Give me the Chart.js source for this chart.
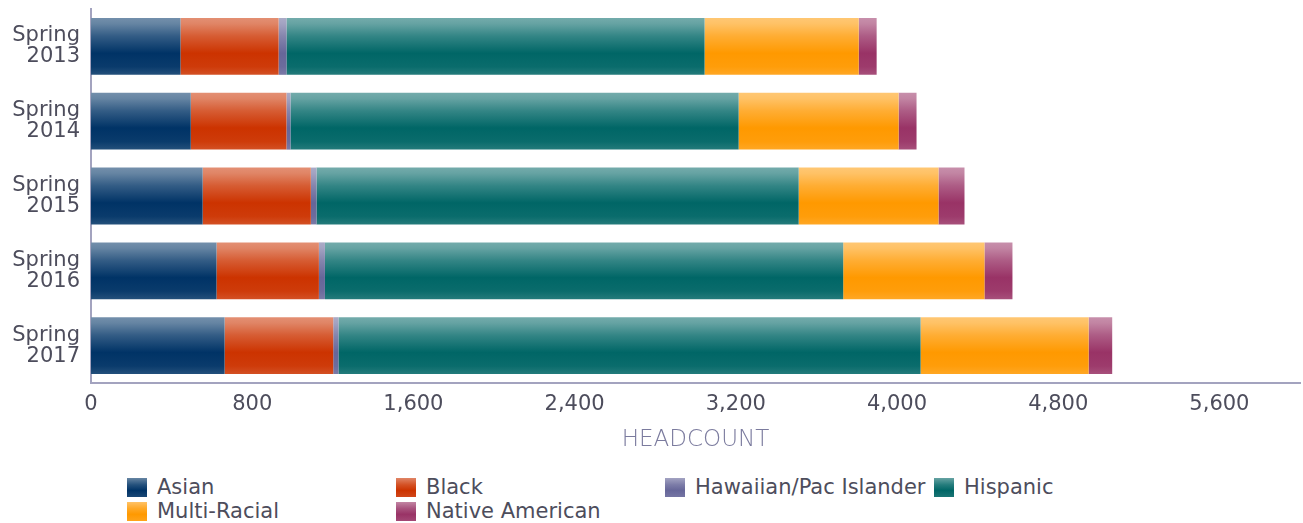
<!DOCTYPE html>
<html lang="en">
<head>
<meta charset="UTF-8">
<title>Headcount by Ethnicity</title>
<script src="https://cdn.jsdelivr.net/npm/chart.js@4.4.0/dist/chart.umd.min.js"></script>
<style>
    body {
        margin: 0;
        background: #ffffff;
        font-family: 'DejaVu Sans', sans-serif;
    }
    .wrap {
        position: relative;
        width: 1303px;
        height: 523px;
    }
    .chart-box {
        position: absolute;
        left: 0;
        top: 0;
        width: 1303px;
        height: 462px;
    }
    .legend {
        position: absolute;
        left: 127px;
        top: 477px;
        display: grid;
        grid-template-columns: repeat(4, 269px);
        row-gap: 4px;
        font-size: 21px;
        color: #4d4d5c;
    }
    .legend span {
        display: flex;
        align-items: center;
        height: 20px;
        white-space: nowrap;
    }
    .legend i {
        display: inline-block;
        width: 20px;
        height: 19px;
        margin-right: 10px;
    }
</style>
</head>
<body>

<div class="wrap">
    <div class="chart-box"><canvas id="headcountChart"></canvas></div>
    <div class="legend" id="legend"></div>
</div>

<script>
    // terms on the y axis
    const terms = [['Spring', '2013'], ['Spring', '2014'], ['Spring', '2015'], ['Spring', '2016'], ['Spring', '2017']];

    // headcount per group
    const asian          = [444, 495, 554, 623, 663];
    const black          = [487, 475, 537, 508, 539];
    const hawaiian       = [39, 20, 28, 30, 26];
    const hispanic       = [2075, 2224, 2393, 2572, 2889];
    const multiRacial    = [765, 794, 694, 701, 834];
    const nativeAmerican = [89, 89, 129, 139, 117];

    // x axis ticks (axis runs on to 6,000 without a label)
    const xTicks = [0, 800, 1600, 2400, 3200, 4000, 4800, 5600];
    const xMax = 6000;

    const groupNames = ['Asian', 'Black', 'Hawaiian/Pac Islander', 'Hispanic', 'Multi-Racial', 'Native American'];
    const groupValues = [asian, black, hawaiian, hispanic, multiRacial, nativeAmerican];
    const groupColors = ['#003366', '#cc3300', '#666699', '#006666', '#ff9900', '#993366'];

    const BAR_PCT = 0.76;

    function tint(hex, amt) {
        const n = parseInt(hex.slice(1), 16);
        const r = (n >> 16) & 255, g = (n >> 8) & 255, b = n & 255;
        const mix = c => Math.round(c + (255 - c) * amt);
        return 'rgb(' + mix(r) + ',' + mix(g) + ',' + mix(b) + ')';
    }

    const shade = [[0, 0.45], [0.1, 0.4], [0.32, 0.2], [0.62, 0], [0.86, 0.04], [1, 0.14]];

    function barFill(color) {
        return function (ctx) {
            const chart = ctx.chart;
            const area = chart.chartArea;
            if (!area || ctx.dataIndex === undefined) return color;
            const y = chart.scales.y.getPixelForValue(ctx.dataIndex);
            const h = area.height / terms.length * BAR_PCT;
            const g = chart.ctx.createLinearGradient(0, y - h / 2, 0, y + h / 2);
            shade.forEach(s => g.addColorStop(s[0], tint(color, s[1])));
            return g;
        };
    }

    const datasets = groupNames.map((name, i) => ({
        label: name,
        data: groupValues[i],
        backgroundColor: barFill(groupColors[i]),
        borderWidth: 0,
        categoryPercentage: 1,
        barPercentage: BAR_PCT
    }));

    Chart.defaults.font.family = "'DejaVu Sans', sans-serif";

    new Chart(document.getElementById('headcountChart').getContext('2d'), {
        type: 'bar',
        data: { labels: terms, datasets: datasets },
        options: {
            indexAxis: 'y',
            responsive: true,
            maintainAspectRatio: false,
            animation: false,
            layout: { padding: { top: 9, right: 3, left: 0, bottom: 0 } },
            plugins: {
                legend: { display: false },
                tooltip: { enabled: false }
            },
            scales: {
                x: {
                    stacked: true,
                    min: 0,
                    max: xMax,
                    grid: { display: false, drawTicks: false },
                    border: { display: true, color: '#a3a3bf', width: 2 },
                    ticks: {
                        padding: 9,
                        color: '#4d4d5c',
                        font: { size: 21 },
                        callback: v => v.toLocaleString('en-US')
                    },
                    afterBuildTicks: s => { s.ticks = xTicks.map(v => ({ value: v })); },
                    title: {
                        display: true,
                        text: 'HEADCOUNT',
                        color: '#7b7b9e',
                        font: { size: 23, weight: '200' },
                        padding: { top: 0, bottom: 8 }
                    },
                    afterFit: s => { s.height = 79; }
                },
                y: {
                    stacked: true,
                    grid: { display: false, drawTicks: false },
                    border: { display: true, color: '#a3a3bf', width: 2 },
                    ticks: {
                        padding: 11,
                        color: '#4d4d5c',
                        font: { size: 21, lineHeight: 1.0 }
                    },
                    afterFit: s => {
                        s.width = 91;
                        s.paddingTop = 0;
                        s.paddingBottom = 0;
                    }
                }
            }
        }
    });

    // legend laid out in fixed columns like the original
    const legend = document.getElementById('legend');
    groupNames.forEach((name, i) => {
        const c = groupColors[i];
        const item = document.createElement('span');
        const box = document.createElement('i');
        box.style.background = 'linear-gradient(' + tint(c, 0.4) + ' 0%, ' + tint(c, 0.15) + ' 35%, ' + c + ' 65%, ' + tint(c, 0.1) + ' 100%)';
        item.appendChild(box);
        item.appendChild(document.createTextNode(name));
        legend.appendChild(item);
    });
</script>

</body>
</html>
